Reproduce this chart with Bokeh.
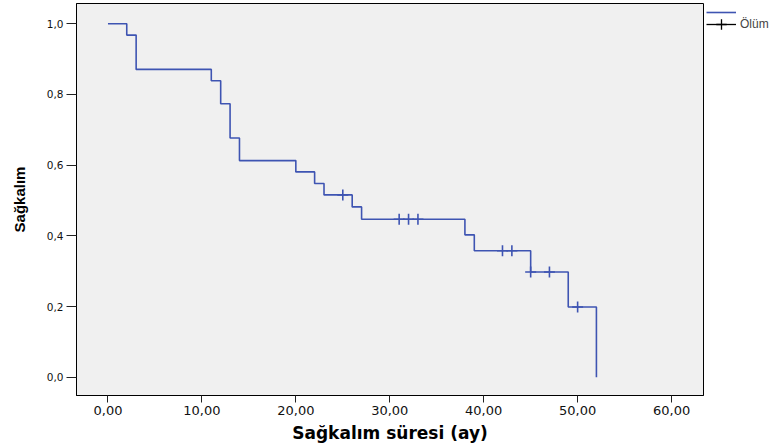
from bokeh.plotting import figure
from bokeh.layouts import row
from bokeh.models import Range1d, FixedTicker, Legend, LegendItem
from bokeh.core.properties import value
from bokeh.embed import file_html
from bokeh.resources import INLINE

# Kaplan-Meier survival steps (time in months, survival probability)
step_times = [0, 2, 3, 11, 12, 13, 14, 20, 22, 23, 26, 27, 38, 39, 45, 49, 52]
survival = [1.0, 0.968, 0.871, 0.839, 0.774, 0.677, 0.613, 0.581, 0.548,
            0.516, 0.482, 0.447, 0.403, 0.358, 0.298, 0.199, 0.0]

# censored observations
censor_times = [25, 31, 32, 33, 42, 43, 45, 47, 50]
censor_surv = [0.516, 0.447, 0.447, 0.447, 0.358, 0.358, 0.298, 0.298, 0.199]

x_ticks = [0, 10, 20, 30, 40, 50, 60]
x_tick_labels = ["0,00", "10,00", "20,00", "30,00", "40,00", "50,00", "60,00"]
y_ticks = [0.0, 0.2, 0.4, 0.6, 0.8, 1.0]
y_tick_labels = ["0,0", "0,2", "0,4", "0,6", "0,8", "1,0"]

x_title = "Sağkalım süresi (ay)"
y_title = "Sağkalım"
legend_label = "Ölüm"

LINE = "#3e54b2"
NAN = float("nan")

p = figure(width=704, height=448, output_backend="svg", toolbar_location=None,
           x_range=Range1d(-3.35, 63.4), y_range=Range1d(-0.0515, 1.0574),
           min_border_left=76, min_border_right=1, min_border_top=3,
           min_border_bottom=53)

p.background_fill_color = "#f0f0f0"
p.border_fill_color = "white"
p.outline_line_color = "black"
p.outline_line_width = 1
p.xgrid.grid_line_color = None
p.ygrid.grid_line_color = None

p.step(x=step_times, y=survival, mode="after", line_color=LINE, line_width=1.6)
p.scatter(x=censor_times, y=censor_surv, marker="cross", size=11,
          line_color=LINE, line_width=1.6)

# axes
p.xaxis.ticker = FixedTicker(ticks=x_ticks)
p.xaxis.major_label_overrides = {t: l for t, l in zip(x_ticks, x_tick_labels)}
p.yaxis.ticker = FixedTicker(ticks=y_ticks)
p.yaxis.major_label_overrides = {t: l for t, l in zip(y_ticks, y_tick_labels)}

for ax in (p.xaxis, p.yaxis):
    ax.axis_line_color = "black"
    ax.major_tick_line_color = "#222222"
    ax.major_tick_in = 0
    ax.minor_tick_line_color = None
    ax.major_label_text_font = "DejaVu Sans"
    ax.major_label_text_color = "#111111"

p.xaxis.major_tick_out = 7
p.xaxis.major_label_standoff = 3
p.xaxis.major_label_text_font_size = "13px"
p.yaxis.major_tick_out = 10
p.yaxis.major_label_standoff = 3
p.yaxis.major_label_text_font_size = "10.5px"

p.xaxis.axis_label = x_title
p.xaxis.axis_label_text_font = "DejaVu Sans"
p.xaxis.axis_label_text_font_style = "bold"
p.xaxis.axis_label_text_font_size = "17px"
p.xaxis.axis_label_standoff = 5
p.xaxis.axis_label_text_color = "black"

p.yaxis.axis_label = y_title
p.yaxis.axis_label_text_font = "Liberation Sans"
p.yaxis.axis_label_text_font_style = "bold"
p.yaxis.axis_label_text_font_size = "15px"
p.yaxis.axis_label_standoff = 16
p.yaxis.axis_label_text_color = "black"

# legend panel to the right of the frame (row aligns its frame with the main one)
leg = figure(width=73, height=448, output_backend="svg", toolbar_location=None,
             x_range=Range1d(0, 1), y_range=Range1d(0, 1),
             x_axis_type=None, y_axis_type=None,
             min_border_left=0, min_border_right=0, min_border_top=0, min_border_bottom=0)
leg.outline_line_color = None
leg.background_fill_color = "white"
leg.border_fill_color = "white"
leg.xgrid.grid_line_color = None
leg.ygrid.grid_line_color = None

proxy_step = leg.line(x=[NAN], y=[NAN], line_color=LINE, line_width=1.6)
proxy_line = leg.line(x=[NAN], y=[NAN], line_color="black", line_width=1.3)
proxy_cross = leg.scatter(x=[NAN], y=[NAN], marker="cross", size=11,
                          line_color="black", line_width=1.3)

common = dict(orientation="vertical", glyph_width=30, spacing=0, padding=0, margin=0,
              label_standoff=4, label_text_font="Liberation Sans",
              label_text_font_size="12px", label_height=13,
              background_fill_alpha=0, border_line_alpha=0)

legend_a = Legend(items=[LegendItem(label=value(""), renderers=[proxy_step])],
                  location=(2, 376), glyph_height=14, **common)
legend_b = Legend(items=[LegendItem(label=value(legend_label), renderers=[proxy_line, proxy_cross])],
                  location=(2, 358), glyph_height=26, **common)
leg.add_layout(legend_a, "center")
leg.add_layout(legend_b, "center")

layout = row(p, leg)
open("out.html", "w").write(file_html(layout, INLINE))
